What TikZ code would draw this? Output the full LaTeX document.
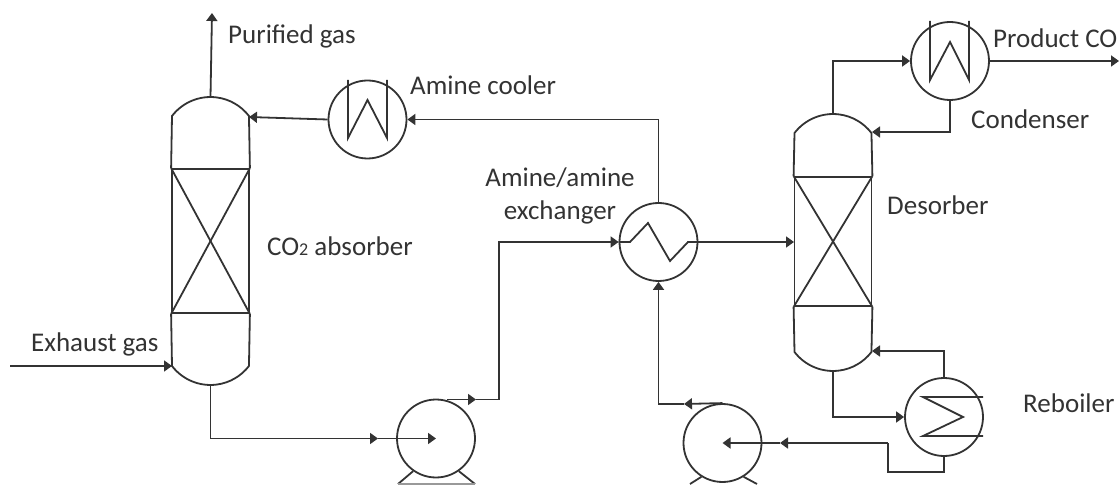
\documentclass[tikz,border=0pt]{standalone}
\usepackage{fontspec}
\setmainfont{Carlito}
\usetikzlibrary{arrows.meta}

\tikzset{
    pipe/.style={line width=1.8pt, draw=black!80},
    flow/.style={pipe, -{Triangle[length=8pt,width=11pt]}},
    vessel/.style={circle, pipe, minimum size=78pt, inner sep=0pt},
    bed/.style={rectangle, pipe, minimum width=77pt, inner sep=0pt},
    tagtext/.style={inner sep=0pt, text=black!80, font=\fontsize{27}{33}\selectfont},
}

\begin{document}
\begin{tikzpicture}[x=1pt,y=1pt]
    \useasboundingbox (0,0) rectangle (1119,485);
    \clip (0,0) rectangle (1119,485);

    % The columns
    \node[bed, minimum height=144pt] (absorberbed) at (210.5,244) {};
    \node[bed, minimum height=129pt] (desorberbed) at (833,243.5) {};
    \draw[pipe] (absorberbed.north west) -- (absorberbed.south east);
    \draw[pipe] (absorberbed.north east) -- (absorberbed.south west);
    \draw[pipe] (desorberbed.north west) -- (desorberbed.south east);
    \draw[pipe] (desorberbed.north east) -- (desorberbed.south west);

    \draw[pipe] (absorberbed.north west) -- (172,369) arc (142.5:37.5:48.5pt) -- (absorberbed.north east);
    \draw[pipe] (absorberbed.south west) -- (172,119) arc (217.5:322.5:48.5pt) -- (absorberbed.south east);
    \draw[pipe] (desorberbed.north west) -- (794.5,352) arc (142.5:37.5:48.5pt) -- (desorberbed.north east);
    \draw[pipe] (desorberbed.south west) -- (794.5,133) arc (217.5:322.5:48.5pt) -- (desorberbed.south east);

    % The exchangers and pumps
    \node[vessel] (cooler) at (367.5,365.5) {};
    \node[vessel] (exchanger) at (658.5,243) {};
    \node[vessel] (condenser) at (950,424) {};
    \node[vessel] (reboiler) at (944,68) {};
    \node[vessel] (pumpa) at (436,46.5) {};
    \node[vessel] (pumpb) at (722.5,42) {};

    % The coils
    \draw[pipe] (348,405) -- (348,347) -- (367.5,385) -- (387,347) -- (387,405);
    \draw[pipe] (930,464) -- (930,405) -- (950,443) -- (969,405) -- (969,464);
    \draw[pipe] (983,88) -- (923,88) -- (963,68) -- (923,49) -- (983,49);
    \draw[pipe] (exchanger.west) -- (630,243) -- (648,262) -- (670,224) -- (688,243) -- (exchanger.east);

    % The pump feet
    \draw[pipe] (pumpa.-125) -- (398,1);
    \draw[pipe] (pumpa.-55) -- (475,1);
    \draw[pipe, draw=black!40] (398,1) -- (475,1);
    \draw[pipe] (pumpb.-122) -- (690,1);
    \draw[pipe] (pumpb.-58) -- (757,1);

    % The free ends and the corners
    \coordinate (gasout) at (212,472);
    \coordinate (abstop) at (210.5,388);
    \coordinate (absbottom) at (210.5,100);
    \coordinate (absfeed) at (172,119);
    \coordinate (absreturn) at (249,368);
    \coordinate (gasin) at (10,119);
    \coordinate (destop) at (833,372);
    \coordinate (desbottom) at (833,114);
    \coordinate (desreturn) at (872,353);
    \coordinate (desboil) at (872,134);
    \coordinate (desfeed) at (794,243);
    \coordinate (productout) at (1119,424);
    \coordinate (midfeed) at (378,46.5);
    \coordinate (pumpaout) at (447,85.5);
    \coordinate (midlift) at (476,85.5);
    \coordinate (corner) at (499,243);
    \coordinate (midlean) at (780,42);
    \coordinate (leanout) at (888,42);
    \coordinate (leandown) at (888,13);
    \coordinate (leanstart) at (944,13);
    \coordinate (midrich) at (684,81);

    % The pipes
    \draw[flow] (abstop) -- (gasout);
    \draw[flow] (gasin) -- (absfeed);
    \draw[flow] (absbottom) |- (midfeed);
    \draw[flow] (midfeed) -- (pumpa.center);
    \draw[flow] (pumpaout) -- (midlift);
    \draw[flow] (midlift) -| (corner) -- (exchanger.west);
    \draw[flow] (exchanger.north) |- (cooler.east);
    \draw[flow] (cooler.west) -- (absreturn);
    \draw[flow] (exchanger.east) -- (desfeed);
    \draw[flow] (destop) |- (condenser.west);
    \draw[flow] (condenser.east) -- (productout);
    \draw[flow] (condenser.south) |- (desreturn);
    \draw[flow] (reboiler.north) |- (desboil);
    \draw[flow] (desbottom) |- (reboiler.west);
    \draw[pipe] (reboiler.south) -- (leanstart) -- (leandown) -- (leanout);
    \draw[flow] (leanout) -- (midlean);
    \draw[flow] (midlean) -- (pumpb.center);
    \draw[flow] (pumpb.north) -- (midrich);
    \draw[flow] (midrich) -| (exchanger.south);

    % The labels
    \node[tagtext, anchor=west] (purifiedlabel) at (228,449) {Purified gas};
    \node[tagtext, anchor=west] (coolerlabel) at (410,400) {Amine cooler};
    \node[tagtext, align=center] (exchangerlabel) at (560,289) {Amine/amine\\exchanger};
    \node[tagtext, anchor=west] (absorberlabel) at (267,239) {CO{\fontsize{18}{22}\selectfont 2} absorber};
    \node[tagtext, anchor=west] (exhaustlabel) at (31,141) {Exhaust gas};
    \node[tagtext, anchor=west] (productlabel) at (993,447) {Product CO};
    \node[tagtext, anchor=west] (condenserlabel) at (971,366) {Condenser};
    \node[tagtext, anchor=west] (desorberlabel) at (887,280) {Desorber};
    \node[tagtext, anchor=west] (reboilerlabel) at (1023,82) {Reboiler};
\end{tikzpicture}
\end{document}
